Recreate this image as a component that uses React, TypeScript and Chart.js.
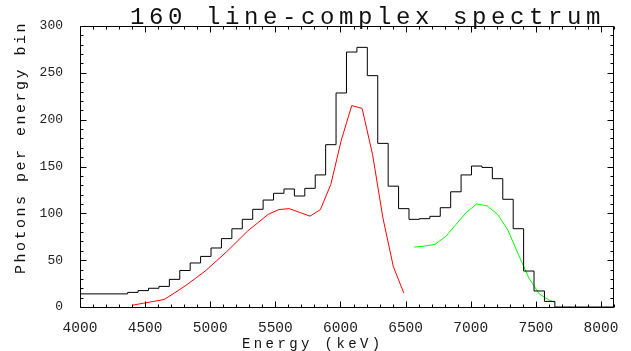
import React, { useEffect, useRef } from "react";
import { Chart, registerables } from "chart.js";

Chart.register(...registerables);

// ---------------- data ----------------
const titleText = "160 line-complex spectrum";
const xTitle = "Energy (keV)";
const yTitle = "Photons per energy bin";

// histogram: left edge of each bin (keV) and photons in that bin
const histEdges = [
  4000, 4366, 4446, 4526, 4606, 4686, 4766, 4846, 4926, 5006, 5086, 5166, 5246,
  5326, 5406, 5486, 5566, 5646, 5726, 5806, 5886, 5966, 6046, 6126, 6206, 6286,
  6366, 6446, 6526, 6606, 6686, 6766, 6846, 6926, 7006, 7086, 7166, 7246, 7326,
  7406, 7486, 7566, 7646, 8100,
];
const histCounts = [
  14, 15.6, 17.5, 20, 22, 29.5, 39, 47, 54, 63, 73, 83.5, 93.6,
  104.3, 114.2, 121.4, 126, 118.5, 126.7, 141, 173.3, 228.5, 272.2, 277.2, 247, 174.7,
  129, 105, 93.6, 94.3, 96.8, 106, 123, 141, 150.5, 149, 137, 115, 83.6,
  38.4, 17.1, 6, 0, 0,
];

// red component
const redEnergy = [
  4406, 4486, 4566, 4646, 4726, 4806, 4886, 4966, 5046, 5126, 5206, 5286, 5366,
  5446, 5526, 5606, 5686, 5766, 5846, 5926, 6006, 6086, 6166, 6246, 6326, 6406, 6486,
];
const redCounts = [
  2, 4, 6, 8, 15, 22.4, 30.5, 39, 49, 59, 70, 81, 90,
  99, 104, 105, 101, 97, 104, 131, 178, 215, 212, 163, 95, 43, 15,
];

// green component
const greenEnergy = [
  6566, 6646, 6726, 6806, 6886, 6966, 7046, 7126, 7206, 7286, 7366, 7446, 7526, 7606, 7646,
];
const greenCounts = [64, 65, 67, 75, 88, 101, 110, 108, 99, 82, 56, 31, 14, 7, 5];

// axes
const xMin = 4000;
const xMax = 8100;
const xTickValues = [4000, 4500, 5000, 5500, 6000, 6500, 7000, 7500, 8000];
const xMajorStep = 500;
const xMinorStep = 100;
const yMin = 0;
const yMax = 300;
const yTickValues = [0, 50, 100, 150, 200, 250, 300];
const yMajorStep = 50;
const yMinorStep = 10;

const MONO = "'Liberation Mono', 'Courier New', 'DejaVu Sans Mono', monospace";

function spacedText(ctx: any, text: string, x: number, y: number, font: string, spacing: number) {
  ctx.font = font;
  ctx.letterSpacing = spacing + "px";
  ctx.fillText(text, x, y);
  ctx.letterSpacing = "0px";
}

const decorPlugin = {
  id: "decor",
  afterDatasetsDraw(chart: any) {
    const { ctx, chartArea: a, scales } = chart;
    const xs = scales.x;
    const ys = scales.y;
    ctx.save();
    ctx.strokeStyle = "#000";
    ctx.lineWidth = 1;
    const L = Math.round(a.left) + 0.5;
    const R = Math.round(a.right) - 0.5;
    const T = Math.round(a.top) + 0.5;
    const B = Math.round(a.bottom) + 0.5;
    ctx.beginPath();
    ctx.rect(L, T, R - L, B - T);
    for (let v = xMin; v <= xMax + 0.001; v += xMinorStep) {
      const px = Math.round(xs.getPixelForValue(v)) + 0.5;
      const len = Math.abs(v % xMajorStep) < 0.001 ? 6 : 3;
      ctx.moveTo(px, B);
      ctx.lineTo(px, B - len);
      ctx.moveTo(px, T);
      ctx.lineTo(px, T + len);
    }
    for (let v = yMin; v <= yMax + 0.001; v += yMinorStep) {
      const py = Math.round(ys.getPixelForValue(v)) + 0.5;
      const len = Math.abs(v % yMajorStep) < 0.001 ? 6 : 3;
      ctx.moveTo(L, py);
      ctx.lineTo(L + len, py);
      ctx.moveTo(R, py);
      ctx.lineTo(R - len, py);
    }
    ctx.stroke();

    ctx.fillStyle = "#111";
    ctx.textBaseline = "alphabetic";
    ctx.textAlign = "left";
    spacedText(ctx, titleText, 130, 24, "24px " + MONO, 4.6);
    spacedText(ctx, xTitle, 242, 348, "14px " + MONO, 3.4);

    ctx.save();
    ctx.translate(25, 274);
    ctx.rotate(-Math.PI / 2);
    spacedText(ctx, yTitle, 0, 0, "15px " + MONO, 2.5);
    ctx.restore();

    ctx.restore();
  },
};

export default function App() {
  const ref = useRef<HTMLCanvasElement>(null);

  useEffect(() => {
    const canvas = ref.current;
    if (!canvas) return;
    const histData = histEdges.map((e, i) => ({ x: e, y: histCounts[i] }));
    const redData = redEnergy.map((e, i) => ({ x: e, y: redCounts[i] }));
    const greenData = greenEnergy.map((e, i) => ({ x: e, y: greenCounts[i] }));

    const chart = new Chart(canvas, {
      type: "line",
      data: {
        datasets: [
          {
            label: "total",
            data: histData,
            borderColor: "#000000",
            borderWidth: 1,
            pointRadius: 0,
            stepped: "before",
            fill: false,
          },
          {
            label: "red",
            data: redData,
            borderColor: "#ff0000",
            borderWidth: 1,
            pointRadius: 0,
            tension: 0,
            fill: false,
          },
          {
            label: "green",
            data: greenData,
            borderColor: "#00ff00",
            borderWidth: 1,
            pointRadius: 0,
            tension: 0,
            fill: false,
          },
        ],
      },
      options: {
        responsive: false,
        animation: false,
        devicePixelRatio: 1,
        layout: { padding: { top: 26, right: 17, left: 0, bottom: 0 } },
        plugins: {
          legend: { display: false },
          title: { display: false },
          tooltip: { enabled: false },
        },
        scales: {
          x: {
            type: "linear",
            min: xMin,
            max: xMax,
            grid: { display: false, drawTicks: false },
            border: { display: false },
            afterBuildTicks: (s: any) => {
              s.ticks = xTickValues.map((v) => ({ value: v }));
            },
            ticks: {
              autoSkip: false,
              maxRotation: 0,
              padding: 12,
              color: "#222",
              font: { family: MONO, size: 14.5 },
              callback: (v: any) => String(v),
            },
            afterFit: (s: any) => {
              s.height = 44;
            },
          },
          y: {
            type: "linear",
            min: yMin,
            max: yMax,
            grid: { display: false, drawTicks: false },
            border: { display: false },
            afterBuildTicks: (s: any) => {
              s.ticks = yTickValues.map((v) => ({ value: v }));
            },
            ticks: {
              padding: 17,
              color: "#222",
              font: { family: MONO, size: 13 },
              callback: (v: any) => String(v),
            },
            afterFit: (s: any) => {
              s.width = 80;
            },
          },
        },
      },
      plugins: [decorPlugin],
    });
    return () => chart.destroy();
  }, []);

  return (
    <div style={{ position: "absolute", left: 0, top: 0, width: 631, height: 351, background: "#fff" }}>
      <canvas ref={ref} width={631} height={351} style={{ display: "block", width: 631, height: 351 }} />
    </div>
  );
}
